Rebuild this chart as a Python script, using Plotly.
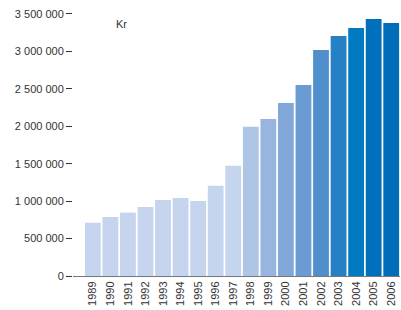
import plotly.graph_objects as go

years = [str(y) for y in range(1989, 2007)]
values = [712000, 788000, 846000, 922000, 1015000, 1042000, 1002000, 1206000, 1474000,
          1995000, 2097000, 2311000, 2551000, 3019000, 3206000, 3313000, 3433000, 3380000]
colors = ["#c6d5ee"] * 9 + ["#aec6e6", "#97b5df", "#82a8da", "#6a9bd3", "#4f8fcb",
                            "#2680c6", "#007bc2", "#0070bc", "#006db8"]
tick_vals = [0, 500000, 1000000, 1500000, 2000000, 2500000, 3000000, 3500000]
tick_text = ["0", "500 000", "1 000 000", "1 500 000", "2 000 000", "2 500 000", "3 000 000", "3 500 000"]

fig = go.Figure(go.Bar(x=list(range(len(years))), y=values, marker=dict(color=colors, line=dict(width=0)),
                       width=0.9))

fig.update_layout(
    width=401, height=310,
    margin=dict(l=73, r=1, t=10, b=34, autoexpand=False),
    paper_bgcolor="white", plot_bgcolor="white",
    font=dict(family="Liberation Sans, Arial, sans-serif", size=11, color="#333333"),
    showlegend=False,
    annotations=[dict(text="Kr", x=(121 - 73) / 327, y=(276 - 24) / 266, xref="paper", yref="paper",
                      showarrow=False, xanchor="center", yanchor="middle",
                      font=dict(size=11, color="#333333"))],
)

fig.update_xaxes(
    range=[-1.13, 17.5], automargin=False,
    tickmode="array", tickvals=list(range(len(years))), ticktext=years,
    tickangle=-90, showgrid=False, zeroline=False,
    showline=True, linecolor="#777777", linewidth=1,
    ticks="", tickfont=dict(size=11, color="#333333"),
)
fig.update_yaxes(
    range=[0, 3553000], automargin=False,
    tickmode="array", tickvals=tick_vals, ticktext=tick_text,
    showgrid=False, zeroline=False, showline=False,
    ticks="outside", ticklen=6, tickcolor="#333333", tickwidth=1,
    tickfont=dict(size=11, color="#333333"),
)

fig.write_html("out.html", config={"displayModeBar": False},
               post_script="document.body.style.margin='0';document.body.style.overflow='hidden';")
